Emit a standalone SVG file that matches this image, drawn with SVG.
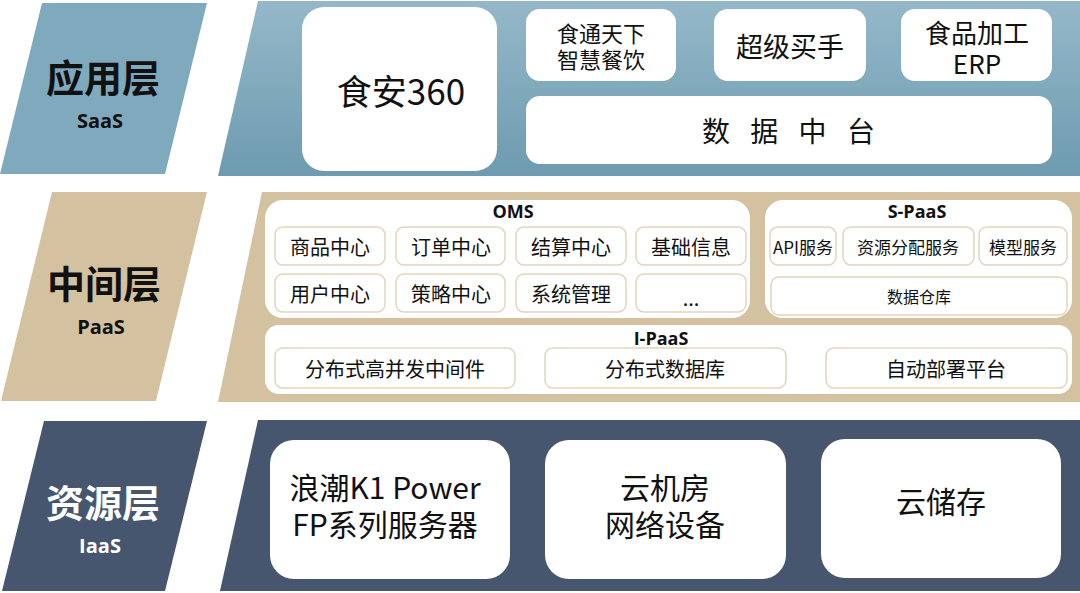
<svg xmlns="http://www.w3.org/2000/svg" width="1080" height="593" viewBox="0 0 1080 593">
<defs>
<linearGradient id="gTop" x1="0" y1="0" x2="0" y2="1">
<stop offset="0" stop-color="#94b8c9"/>
<stop offset="1" stop-color="#6e9bb0"/>
</linearGradient>
<style>
text{font-family:"Noto Sans CJK SC","Microsoft YaHei",sans-serif;dominant-baseline:central;text-anchor:middle;fill:#111}
.lbl{font-weight:700;font-size:38px}
.sub{font-family:"Open Sans","Noto Sans CJK SC",sans-serif;font-weight:700;font-size:20px}
.ttl{font-family:"Open Sans","Noto Sans CJK SC",sans-serif;font-weight:700;font-size:18px}
.wb{fill:#fff}
.it{fill:#fff;stroke:#e2d5bd;stroke-width:1.5}
.cont{fill:#fff}
.t20{font-size:20px}
.t17{font-size:17px}
.t30{font-size:30px}
.w{fill:#fff}
</style>
</defs>
<rect width="1080" height="593" fill="#fff"/>

<g id="layer-app">
<polygon points="42,3 207,3 165,174 0,174" fill="#7fa9bd"/>
<text class="lbl" x="103" y="75">应用层</text>
<text class="sub" x="100" y="120">SaaS</text>
<polygon points="258,1 1080,1 1080,176 218,176" fill="url(#gTop)"/>
</g>
<g id="node-shian360"><rect class="wb" x="302" y="7" width="195" height="164" rx="22"/><text x="401" y="89" font-size="35">食安360</text></g>
<g id="node-shitong"><rect class="wb" x="526" y="9" width="150" height="72" rx="14"/><text x="601" y="32" font-size="22">食通天下</text><text x="601" y="58" font-size="22">智慧餐饮</text></g>
<g id="node-chaoji"><rect class="wb" x="714" y="9" width="152" height="72" rx="14"/><text x="790" y="45" font-size="27">超级买手</text></g>
<g id="node-erp"><rect class="wb" x="901" y="9" width="151" height="72" rx="14"/><text x="977" y="31" font-size="26">食品加工</text><text x="977" y="62" font-size="26">ERP</text></g>
<g id="node-datacenter"><rect class="wb" x="526" y="96" width="526" height="68" rx="14"/><text x="792" y="130" font-size="28" letter-spacing="7">数 据 中 台</text></g>

<g id="layer-mid">
<polygon points="52,192 207,192 156,401 1,401" fill="#d4c19f"/>
<text class="lbl" x="104" y="281">中间层</text>
<text class="sub" x="101" y="326">PaaS</text>
<polygon points="262,192 1080,192 1080,402 218,402" fill="#d4c19f"/>
</g>
<g id="node-oms">
<rect class="cont" x="265" y="200" width="485" height="118" rx="18"/>
<text class="ttl" x="513" y="211">OMS</text>
<rect class="it" x="275" y="227" width="110" height="38" rx="8"/><text class="t20" x="330" y="246">商品中心</text>
<rect class="it" x="396" y="227" width="109" height="38" rx="8"/><text class="t20" x="451" y="246">订单中心</text>
<rect class="it" x="516" y="227" width="110" height="38" rx="8"/><text class="t20" x="571" y="246">结算中心</text>
<rect class="it" x="636" y="227" width="110" height="38" rx="8"/><text class="t20" x="691" y="246">基础信息</text>
<rect class="it" x="275" y="274" width="110" height="38" rx="8"/><text class="t20" x="330" y="293">用户中心</text>
<rect class="it" x="396" y="274" width="109" height="38" rx="8"/><text class="t20" x="451" y="293">策略中心</text>
<rect class="it" x="516" y="274" width="110" height="38" rx="8"/><text class="t20" x="571" y="293">系统管理</text>
<rect class="it" x="636" y="274" width="110" height="38" rx="8"/><text class="t20" x="691" y="297">...</text>
</g>
<g id="node-spaas">
<rect class="cont" x="765" y="200" width="307" height="118" rx="18"/>
<text class="ttl" x="917" y="211">S-PaaS</text>
<rect class="it" x="770" y="227" width="66" height="38" rx="8"/><text class="t17" x="803" y="246">API服务</text>
<rect class="it" x="843" y="227" width="131" height="38" rx="8"/><text class="t17" x="908" y="246">资源分配服务</text>
<rect class="it" x="979" y="227" width="88" height="38" rx="8"/><text class="t17" x="1023" y="246">模型服务</text>
<rect class="it" x="771" y="277" width="296" height="38" rx="8"/><text x="919" y="296" font-size="16">数据仓库</text>
</g>
<g id="node-ipaas">
<rect class="cont" x="265" y="325" width="807" height="69" rx="14"/>
<text class="ttl" x="661" y="338">I-PaaS</text>
<rect class="it" x="275" y="348" width="240" height="40" rx="8"/><text class="t20" x="395" y="368">分布式高并发中间件</text>
<rect class="it" x="545" y="348" width="241" height="40" rx="8"/><text class="t20" x="665" y="368">分布式数据库</text>
<rect class="it" x="826" y="348" width="241" height="40" rx="8"/><text class="t20" x="946" y="368">自动部署平台</text>
</g>

<g id="layer-res">
<polygon points="44,421 207,421 165,591 2,591" fill="#46566e"/>
<text class="lbl w" x="103" y="500">资源层</text>
<text class="sub w" x="100" y="545">IaaS</text>
<polygon points="258,420 1080,420 1080,591 220,591" fill="#46566e"/>
</g>
<g id="node-server"><rect class="wb" x="270" y="440" width="240" height="139" rx="24"/><text class="t30" x="385" y="486">浪潮K1 Power</text><text class="t30" x="385" y="523">FP系列服务器</text></g>
<g id="node-network"><rect class="wb" x="545" y="440" width="241" height="139" rx="24"/><text class="t30" x="665" y="486">云机房</text><text class="t30" x="665" y="523">网络设备</text></g>
<g id="node-storage"><rect class="wb" x="821" y="439" width="240" height="139" rx="24"/><text class="t30" x="941" y="500">云储存</text></g>

<g id="connectors"></g>
</svg>
